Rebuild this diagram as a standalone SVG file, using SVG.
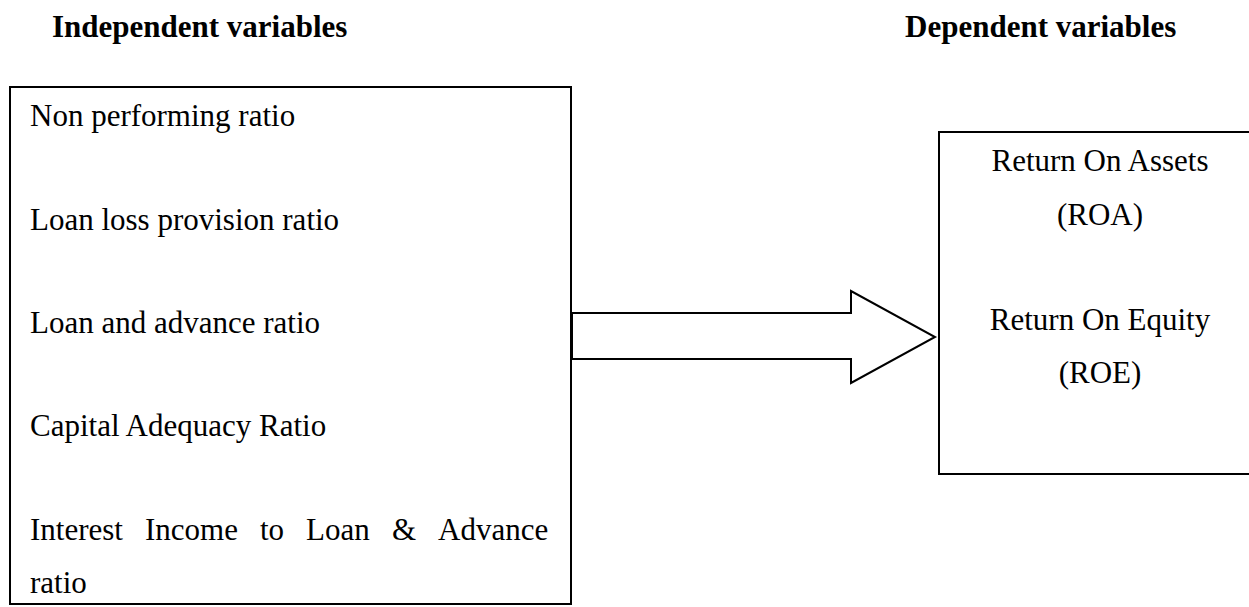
<svg xmlns="http://www.w3.org/2000/svg" width="1249" height="607" viewBox="0 0 1249 607">
<style>
.t{font-family:"Liberation Serif","Times New Roman",serif;font-size:31px;fill:#000}
.h{font-family:"Liberation Serif","Times New Roman",serif;font-size:31px;font-weight:bold;fill:#000}
.c{text-anchor:middle}
.box{fill:#fff;stroke:#000;stroke-width:2}
.arr{fill:#fff;stroke:#000;stroke-width:2;stroke-linejoin:miter}
</style>
<rect width="1249" height="607" fill="#fff"/>
<g id="titles">
<text class="h" x="52" y="37">Independent variables</text>
<text class="h" x="905" y="37">Dependent variables</text>
</g>
<g id="independent">
<rect class="box" x="10" y="87" width="561" height="517"/>
<text class="t" x="30" y="126">Non performing ratio</text>
<text class="t" x="30" y="230">Loan loss provision ratio</text>
<text class="t" x="30" y="333">Loan and advance ratio</text>
<text class="t" x="30" y="436">Capital Adequacy Ratio</text>
<text class="t" y="540"><tspan x="30">Interest</tspan><tspan x="145">Income</tspan><tspan x="260">to</tspan><tspan x="306">Loan</tspan><tspan x="392">&amp;</tspan><tspan x="438">Advance</tspan></text>
<text class="t" x="30" y="593">ratio</text>
</g>
<g id="connectors">
<polygon class="arr" points="572,313 851,313 851,291 935,337 851,383 851,359 572,359"/>
</g>
<g id="dependent">
<path class="box" d="M1252,132 H939 V474 H1252"/>
<text class="t c" x="1100" y="171">Return On Assets</text>
<text class="t c" x="1100" y="225">(ROA)</text>
<text class="t c" x="1100" y="330">Return On Equity</text>
<text class="t c" x="1100" y="383">(ROE)</text>
</g>
</svg>
